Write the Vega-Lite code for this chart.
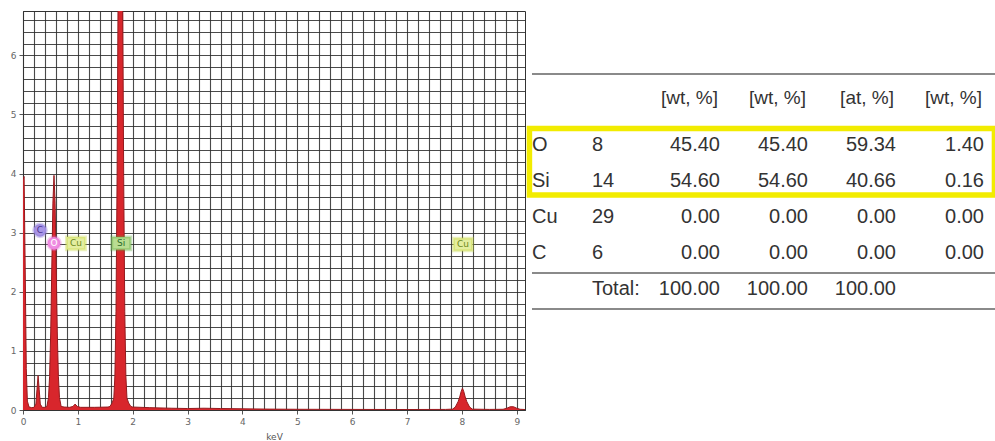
{
  "$schema": "https://vega.github.io/schema/vega-lite/v6.json",
  "padding": {"left": 5, "top": 10, "right": 0, "bottom": 0},
  "background": "white",
  "spacing": 0,
  "config": {"font": "DejaVu Sans"},
  "datasets": {
    "spectrum": [
      {"keV": 0, "cps": 3.9}, {"keV": 0.02, "cps": 3.95}, {"keV": 0.04, "cps": 2.4}, {"keV": 0.06, "cps": 0.7},
      {"keV": 0.08, "cps": 0.15}, {"keV": 0.11, "cps": 0.05}, {"keV": 0.16, "cps": 0.04}, {"keV": 0.2, "cps": 0.045},
      {"keV": 0.235, "cps": 0.1}, {"keV": 0.255, "cps": 0.35}, {"keV": 0.275, "cps": 0.58}, {"keV": 0.295, "cps": 0.35},
      {"keV": 0.315, "cps": 0.1}, {"keV": 0.35, "cps": 0.045}, {"keV": 0.4, "cps": 0.045},
      {"keV": 0.435, "cps": 0.06}, {"keV": 0.465, "cps": 0.21}, {"keV": 0.485, "cps": 0.57}, {"keV": 0.505, "cps": 1.32},
      {"keV": 0.525, "cps": 2.42}, {"keV": 0.545, "cps": 3.5}, {"keV": 0.565, "cps": 3.97}, {"keV": 0.585, "cps": 3.5},
      {"keV": 0.605, "cps": 2.42}, {"keV": 0.625, "cps": 1.32}, {"keV": 0.645, "cps": 0.57}, {"keV": 0.665, "cps": 0.21},
      {"keV": 0.695, "cps": 0.06}, {"keV": 0.75, "cps": 0.05}, {"keV": 0.85, "cps": 0.045}, {"keV": 0.91, "cps": 0.06},
      {"keV": 0.95, "cps": 0.1}, {"keV": 0.99, "cps": 0.06}, {"keV": 1.05, "cps": 0.045}, {"keV": 1.3, "cps": 0.045},
      {"keV": 1.55, "cps": 0.05}, {"keV": 1.585, "cps": 0.06}, {"keV": 1.625, "cps": 0.12}, {"keV": 1.655, "cps": 0.2},
      {"keV": 1.675, "cps": 0.58}, {"keV": 1.695, "cps": 1.67}, {"keV": 1.715, "cps": 3.95}, {"keV": 1.735, "cps": 7.35},
      {"keV": 1.755, "cps": 10.6}, {"keV": 1.775, "cps": 12}, {"keV": 1.795, "cps": 10.6}, {"keV": 1.815, "cps": 7.35},
      {"keV": 1.835, "cps": 3.95}, {"keV": 1.855, "cps": 1.67}, {"keV": 1.875, "cps": 0.58}, {"keV": 1.895, "cps": 0.2},
      {"keV": 1.925, "cps": 0.12}, {"keV": 1.965, "cps": 0.06}, {"keV": 2.0, "cps": 0.05}, {"keV": 2.3, "cps": 0.04},
      {"keV": 2.7, "cps": 0.03}, {"keV": 3.0, "cps": 0.025}, {"keV": 3.3, "cps": 0.03}, {"keV": 3.6, "cps": 0.025},
      {"keV": 4.0, "cps": 0.02}, {"keV": 4.5, "cps": 0.015}, {"keV": 5.0, "cps": 0.012}, {"keV": 6.0, "cps": 0.01},
      {"keV": 7.0, "cps": 0.008}, {"keV": 7.7, "cps": 0.01}, {"keV": 7.83, "cps": 0.015}, {"keV": 7.88, "cps": 0.05},
      {"keV": 7.93, "cps": 0.14}, {"keV": 7.96, "cps": 0.22}, {"keV": 7.985, "cps": 0.31}, {"keV": 8.01, "cps": 0.37},
      {"keV": 8.035, "cps": 0.31}, {"keV": 8.06, "cps": 0.22}, {"keV": 8.09, "cps": 0.14}, {"keV": 8.14, "cps": 0.05},
      {"keV": 8.19, "cps": 0.015}, {"keV": 8.5, "cps": 0.01}, {"keV": 8.75, "cps": 0.012}, {"keV": 8.82, "cps": 0.03},
      {"keV": 8.88, "cps": 0.055}, {"keV": 8.94, "cps": 0.055}, {"keV": 9.0, "cps": 0.03}, {"keV": 9.06, "cps": 0.012},
      {"keV": 9.15, "cps": 0.008}
    ],
    "lines": [
      {"el": "C", "keV": 0.28, "top": 2.72},
      {"el": "O", "keV": 0.565, "top": 2.7},
      {"el": "Cu", "keV": 0.953, "top": 2.65},
      {"el": "Si", "keV": 1.775, "top": 2.7},
      {"el": "Cu", "keV": 8.01, "top": 2.7}
    ],
    "badges": [
      {"el": "C", "keV": 0.31, "cps": 3.04},
      {"el": "O", "keV": 0.565, "cps": 2.82},
      {"el": "Cu", "keV": 0.965, "cps": 2.82},
      {"el": "Si", "keV": 1.79, "cps": 2.82},
      {"el": "Cu", "keV": 8.02, "cps": 2.8}
    ],
    "table": [
      {"row": 0, "col": 2, "text": "[wt, %]"}, {"row": 0, "col": 3, "text": "[wt, %]"}, {"row": 0, "col": 4, "text": "[at, %]"}, {"row": 0, "col": 5, "text": "[wt, %]"},
      {"row": 1, "col": 0, "text": "O"}, {"row": 1, "col": 1, "text": "8"}, {"row": 1, "col": 2, "text": "45.40"}, {"row": 1, "col": 3, "text": "45.40"}, {"row": 1, "col": 4, "text": "59.34"}, {"row": 1, "col": 5, "text": "1.40"},
      {"row": 2, "col": 0, "text": "Si"}, {"row": 2, "col": 1, "text": "14"}, {"row": 2, "col": 2, "text": "54.60"}, {"row": 2, "col": 3, "text": "54.60"}, {"row": 2, "col": 4, "text": "40.66"}, {"row": 2, "col": 5, "text": "0.16"},
      {"row": 3, "col": 0, "text": "Cu"}, {"row": 3, "col": 1, "text": "29"}, {"row": 3, "col": 2, "text": "0.00"}, {"row": 3, "col": 3, "text": "0.00"}, {"row": 3, "col": 4, "text": "0.00"}, {"row": 3, "col": 5, "text": "0.00"},
      {"row": 4, "col": 0, "text": "C"}, {"row": 4, "col": 1, "text": "6"}, {"row": 4, "col": 2, "text": "0.00"}, {"row": 4, "col": 3, "text": "0.00"}, {"row": 4, "col": 4, "text": "0.00"}, {"row": 4, "col": 5, "text": "0.00"},
      {"row": 5, "col": 1, "text": "Total:"}, {"row": 5, "col": 2, "text": "100.00"}, {"row": 5, "col": 3, "text": "100.00"}, {"row": 5, "col": 4, "text": "100.00"}
    ],
    "rules": [
      {"after": -0.972}, {"after": 4.556}, {"after": 5.556}
    ],
    "box": [
      {"from": 0.542, "to": 2.389}
    ]
  },
  "hconcat": [
    {
      "width": 502,
      "height": 399,
      "view": {"stroke": "#333", "strokeWidth": 1},
      "encoding": {
        "x": {
          "field": "keV", "type": "quantitative",
          "scale": {"domain": [0, 9.15], "nice": false, "zero": false},
          "axis": {
            "title": "keV", "tickCount": 45, "grid": true,
            "gridColor": "#2a2a2a", "gridWidth": 1.1, "gridOpacity": 0.85,
            "domainColor": "#333", "tickColor": "#555", "tickSize": 4,
            "tickOpacity": {"condition": {"test": "datum.value % 1 === 0", "value": 1}, "value": 0},
            "labelExpr": "datum.value % 1 === 0 ? format(datum.value, 'd') : ''",
            "labelFontSize": 9, "labelColor": "#666", "labelPadding": 3, "labelOverlap": false, "labelFlush": false,
            "titleFontSize": 9, "titleFontWeight": "normal", "titleColor": "#555", "titlePadding": 6
          }
        },
        "y": {
          "field": "cps", "type": "quantitative",
          "scale": {"domain": [0, 6.75], "nice": false, "zero": false},
          "axis": {
            "title": null, "tickCount": 34, "grid": true,
            "gridColor": "#2a2a2a", "gridWidth": 1.1, "gridOpacity": 0.85,
            "domainColor": "#333", "tickColor": "#555", "tickSize": 4,
            "tickOpacity": {"condition": {"test": "datum.value % 1 === 0", "value": 1}, "value": 0},
            "labelExpr": "datum.value % 1 === 0 ? format(datum.value, 'd') : ''",
            "labelFontSize": 9, "labelColor": "#666", "labelPadding": 3, "labelOverlap": false, "labelFlush": false,
            "minExtent": 17, "maxExtent": 17
          }
        }
      },
      "layer": [
        {
          "data": {"name": "spectrum"},
          "mark": {"type": "area", "color": "#d8262c", "clip": true, "interpolate": "linear"}
        },
        {
          "data": {"name": "spectrum"},
          "mark": {"type": "line", "color": "#961a1e", "strokeWidth": 1, "clip": true, "interpolate": "linear"}
        },
        {
          "data": {"name": "lines"},
          "mark": {"type": "rule", "strokeWidth": 1.2},
          "encoding": {
            "y": {"datum": 0},
            "y2": {"field": "top"},
            "stroke": {"field": "el", "type": "nominal", "legend": null,
              "scale": {"domain": ["C", "O", "Cu", "Si"], "range": ["#8b78d6", "#e46fd4", "#c5d63a", "#5aaa3c"]}}
          }
        },
        {
          "data": {"name": "badges"},
          "mark": {"type": "point", "filled": true, "size": 160, "strokeWidth": 3, "strokeOpacity": 0.35, "opacity": 1},
          "encoding": {
            "shape": {"field": "el", "type": "nominal", "legend": null,
              "scale": {"domain": ["C", "O", "Cu", "Si"], "range": ["circle", "circle", "M-1.5,-1H1.5V1H-1.5Z", "M-1.5,-1H1.5V1H-1.5Z"]}},
            "fill": {"field": "el", "type": "nominal", "legend": null,
              "scale": {"domain": ["C", "O", "Cu", "Si"], "range": ["#a996e6", "#ef8ee2", "#e4eea0", "#b9dd92"]}},
            "stroke": {"field": "el", "type": "nominal", "legend": null}
          }
        },
        {
          "data": {"name": "badges"},
          "mark": {"type": "text", "fontSize": 9, "baseline": "middle", "align": "center"},
          "encoding": {
            "text": {"field": "el"},
            "color": {"field": "el", "type": "nominal", "legend": null,
              "scale": {"domain": ["C", "O", "Cu", "Si"], "range": ["#4b3290", "#ffffff", "#6f8a1a", "#2d6b2a"]}}
          }
        }
      ]
    },
    {
      "width": 468,
      "height": 399,
      "view": {"stroke": null},
      "layer": [
        {
          "data": {"name": "rules"},
          "mark": {"type": "rule", "color": "#8a8a8a", "strokeWidth": 2},
          "encoding": {
            "x": {"datum": -0.136, "type": "quantitative", "axis": null, "scale": {"domain": [-0.17, 5.148], "nice": false, "zero": false}},
            "x2": {"datum": 5.148},
            "y": {"field": "after", "type": "quantitative", "axis": null, "scale": {"domain": [-2.722, 8.361], "nice": false, "zero": false, "reverse": true}}
          }
        },
        {
          "data": {"name": "box"},
          "mark": {"type": "rect", "fill": "white", "fillOpacity": 0, "stroke": "#f2ec00", "strokeWidth": 5.5},
          "encoding": {
            "x": {"datum": -0.165, "type": "quantitative"},
            "x2": {"datum": 5.119},
            "y": {"field": "from", "type": "quantitative"},
            "y2": {"field": "to"}
          }
        },
        {
          "data": {"name": "table"},
          "transform": [{"filter": "datum.row === 0"}],
          "mark": {"type": "text", "font": "Liberation Sans", "fontSize": 19, "color": "#333", "align": "right", "baseline": "middle", "dx": -2, "dy": -11},
          "encoding": {"text": {"field": "text"}, "x": {"field": "col", "type": "quantitative"}, "y": {"field": "row", "type": "quantitative"}}
        },
        {
          "data": {"name": "table"},
          "transform": [{"filter": "datum.col === 0"}],
          "mark": {"type": "text", "font": "Liberation Sans", "fontSize": 20, "color": "#333", "align": "left", "baseline": "middle", "dx": -12},
          "encoding": {"text": {"field": "text"}, "x": {"field": "col", "type": "quantitative"}, "y": {"field": "row", "type": "quantitative"}}
        },
        {
          "data": {"name": "table"},
          "transform": [{"filter": "datum.col === 1"}],
          "mark": {"type": "text", "font": "Liberation Sans", "fontSize": 20, "color": "#333", "align": "left", "baseline": "middle", "dx": -40},
          "encoding": {"text": {"field": "text"}, "x": {"field": "col", "type": "quantitative"}, "y": {"field": "row", "type": "quantitative"}}
        },
        {
          "data": {"name": "table"},
          "transform": [{"filter": "datum.col >= 2 && datum.row > 0"}],
          "mark": {"type": "text", "font": "Liberation Sans", "fontSize": 20, "color": "#333", "align": "right", "baseline": "middle"},
          "encoding": {"text": {"field": "text"}, "x": {"field": "col", "type": "quantitative"}, "y": {"field": "row", "type": "quantitative"}}
        }
      ]
    }
  ]
}
